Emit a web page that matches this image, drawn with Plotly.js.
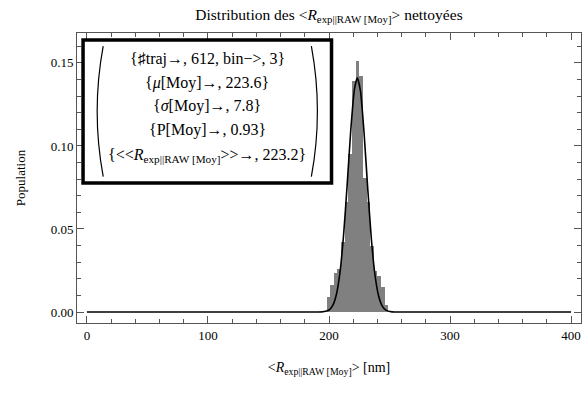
<!DOCTYPE html>
<html><head><meta charset="utf-8">
<script src="https://cdn.plot.ly/plotly-3.0.1.min.js"></script>
<style>html,body{margin:0;padding:0;background:#fff}#chart{width:584px;height:405px}</style>
</head><body><div id="chart"></div>
<script>
// Histogram bins (left edges, width 3) and population fractions
const binLeft = [198,201,204,207,210,213,216,219,222,225,228,231,234,237,240,243,246];
const population = [0.009,0.016,0.0235,0.026,0.042,0.066,0.095,0.139,0.151,0.142,0.081,0.066,0.040,0.025,0.022,0.015,0.004];
const binWidth = 3;
// Fitted normal curve
const fitX = [0,190,195,200,203,206,209,212,215,218,221,223.4,226,229,232,235,238,241,244,247,252,260,400];
const fitY = [0,0,0.00013,0.00123,0.00384,0.01025,0.0234,0.0458,0.0765,0.1096,0.1341,0.141,0.1330,0.1075,0.0744,0.0440,0.0223,0.00965,0.00358,0.00114,0.00012,0,0];
const xTicks = [0,100,200,300,400];
const yTicks = [0.00,0.05,0.10,0.15];
const boxLines = [
  "{♯traj→, 612, bin−>, 3}",
  "{<i>μ</i>[Moy]→, 223.6}",
  "{<i>σ</i>[Moy]→, 7.8}",
  "{P[Moy]→, 0.93}",
  "{&lt;&lt;<i>R</i><sub>exp||RAW [Moy]</sub>&gt;&gt;→, 223.2}"
];

const serif = "Liberation Serif, serif";
const frameColor = "#555";

const bars = {
  type: "bar",
  x: binLeft.map(v => v + binWidth/2),
  y: population,
  width: binWidth,
  marker: {color: "#808080", line: {width: 0}},
  hoverinfo: "skip"
};
const fit = {
  type: "scatter", mode: "lines",
  x: fitX, y: fitY,
  line: {color: "#000", width: 1.6, shape: "spline", smoothing: 0.6},
  hoverinfo: "skip"
};

// box geometry in paper coords
const bx0 = 0.012, bx1 = 0.505, by0 = 0.483, by1 = 0.976;
const lineYs = [0.912, 0.826, 0.748, 0.665, 0.577];
const annotations = boxLines.map((t, i) => ({
  xref: "paper", yref: "paper", x: (bx0 + bx1)/2, y: lineYs[i],
  text: t, showarrow: false, xanchor: "center", yanchor: "middle",
  font: {family: serif, size: 16, color: "#000"}
}));

const pl = 0.040, pr = 0.477; // paren positions
const pt = 0.955, pb = 0.505, pm = (pt+pb)/2;
const shapes = [
  {type: "rect", xref: "paper", yref: "paper", x0: bx0, x1: bx1, y0: by0, y1: by1,
   line: {color: "#000", width: 3.5}, fillcolor: "#fff", layer: "above"},
  {type: "path", xref: "paper", yref: "paper",
   path: `M ${pl+0.012} ${pt} Q ${pl-0.012} ${pm} ${pl+0.012} ${pb}`,
   line: {color: "#000", width: 1.2}},
  {type: "path", xref: "paper", yref: "paper",
   path: `M ${pr-0.012} ${pt} Q ${pr+0.012} ${pm} ${pr-0.012} ${pb}`,
   line: {color: "#000", width: 1.2}}
];

const layout = {
  width: 584, height: 405,
  margin: {l: 77, r: 3, t: 33, b: 82},
  paper_bgcolor: "#fff", plot_bgcolor: "#fff",
  showlegend: false,
  bargap: 0,
  font: {family: serif, size: 13, color: "#000"},
  title: {text: "Distribution des &lt;<i>R</i><sub>exp||RAW [Moy]</sub>&gt; nettoyées",
          font: {family: serif, size: 15.5, color: "#000"}, xref: "paper", x: 0.5, xanchor: "center", y: 0.965, yanchor: "middle"},
  xaxis: {
    range: [-8.2, 408.2], tickvals: xTicks, ticktext: xTicks.map(String),
    ticks: "inside", ticklen: 7, tickwidth: 1, tickcolor: frameColor,
    minor: {dtick: 20, tick0: 0, ticks: "inside", ticklen: 4, tickcolor: frameColor},
    showline: true, linecolor: frameColor, linewidth: 1, mirror: "allticks",
    showgrid: false, zeroline: false,
    tickfont: {family: serif, size: 13, color: "#000"},
    title: {text: "&lt;<i>R</i><sub>exp||RAW [Moy]</sub>&gt; [nm]", font: {family: serif, size: 14, color: "#000"}, standoff: 20}
  },
  yaxis: {
    range: [-0.0066, 0.168], tickvals: yTicks, ticktext: yTicks.map(v => v.toFixed(2)),
    ticks: "inside", ticklen: 7, tickwidth: 1, tickcolor: frameColor,
    minor: {dtick: 0.01, tick0: 0, ticks: "inside", ticklen: 4, tickcolor: frameColor},
    showline: true, linecolor: frameColor, linewidth: 1, mirror: "allticks",
    showgrid: false, zeroline: false,
    tickfont: {family: serif, size: 13, color: "#000"},
    title: {text: "Population", font: {family: serif, size: 13, color: "#000"}, standoff: 22}
  },
  shapes: shapes,
  annotations: annotations
};

Plotly.newPlot("chart", [bars, fit], layout, {displayModeBar: false, staticPlot: true});
</script></body></html>
